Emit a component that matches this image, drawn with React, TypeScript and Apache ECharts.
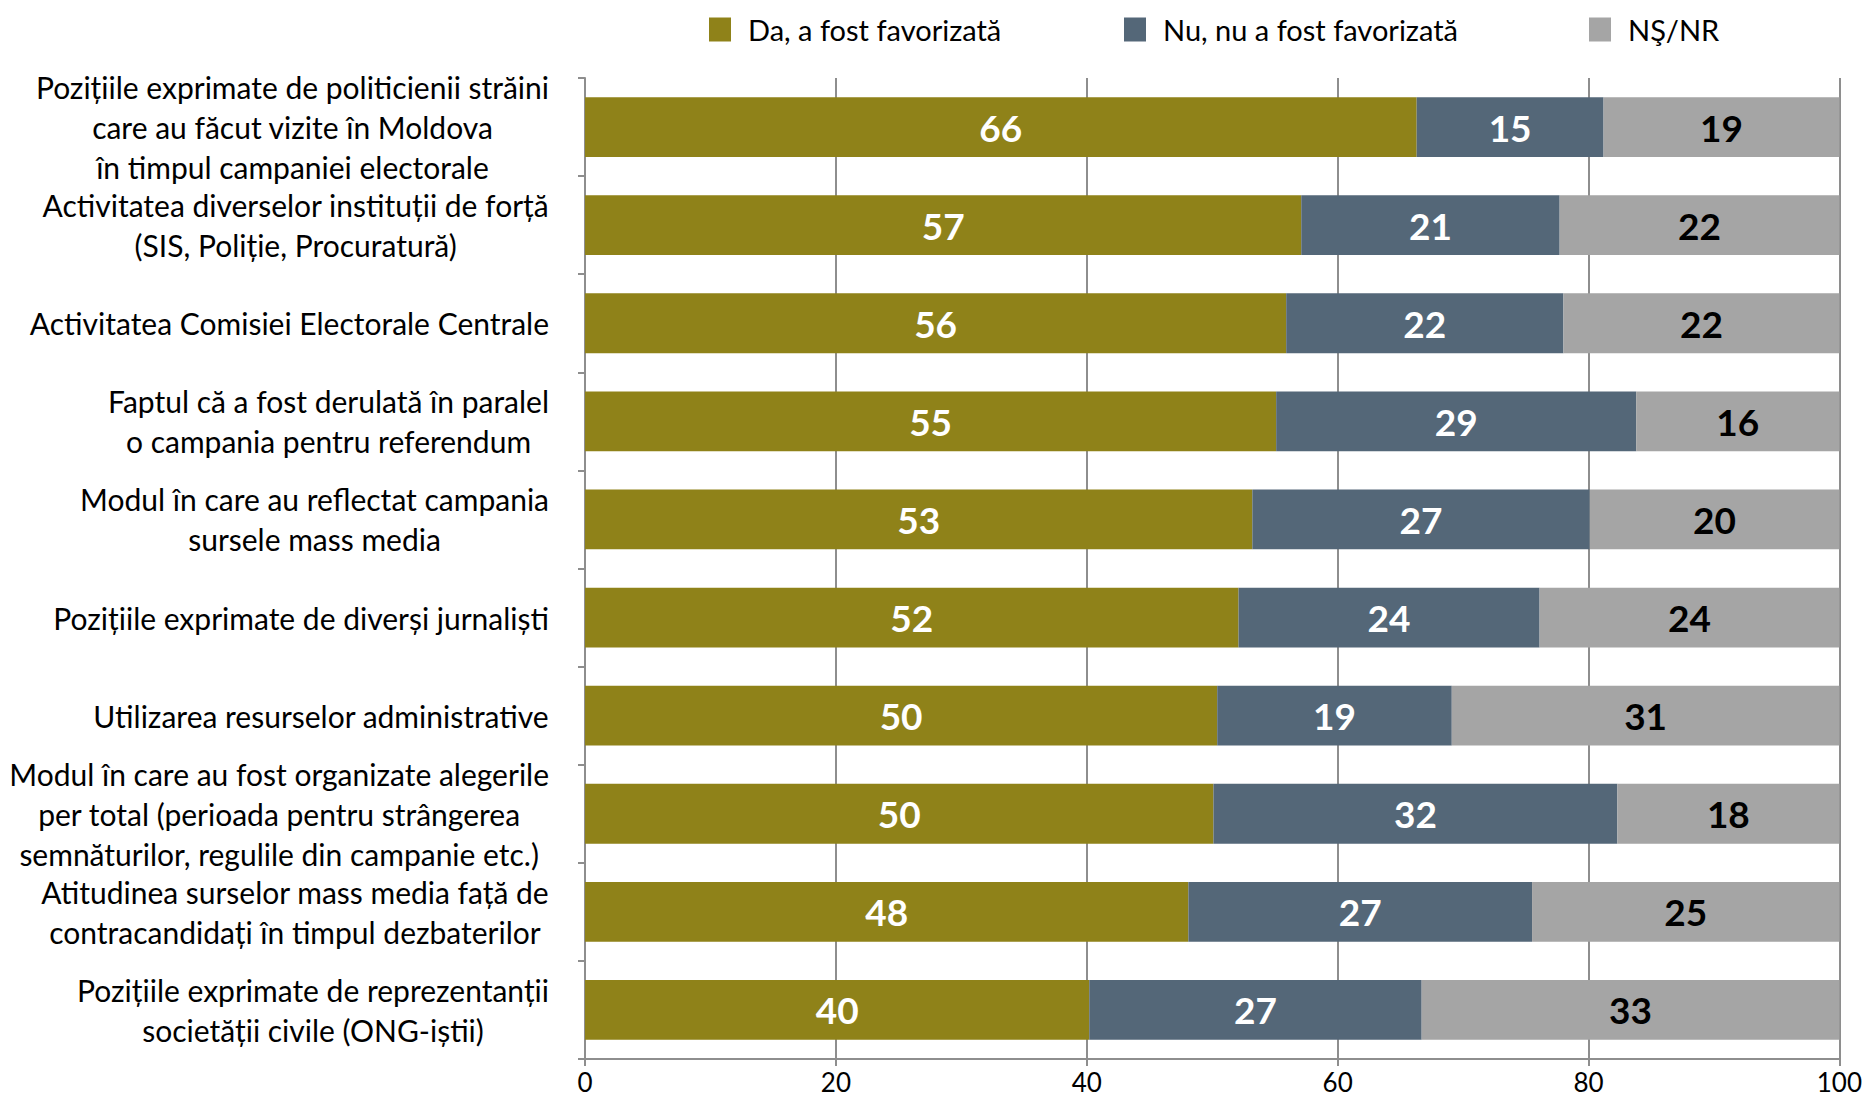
import React, { useEffect, useRef } from "react";
import * as echarts from "echarts";

const categories = [
  "Pozițiile exprimate de politicienii străini\ncare au făcut vizite în Moldova\nîn timpul campaniei electorale",
  "Activitatea diverselor instituții de forță\n(SIS, Poliție, Procuratură)",
  "Activitatea Comisiei Electorale Centrale",
  "Faptul că a fost derulată în paralel\no campania pentru referendum",
  "Modul în care au reflectat campania\nsursele mass media",
  "Pozițiile exprimate de diverși jurnaliști",
  "Utilizarea resurselor administrative",
  "Modul în care au fost organizate alegerile\nper total (perioada pentru strângerea\nsemnăturilor, regulile din campanie etc.)",
  "Atitudinea surselor mass media față de\ncontracandidați în timpul dezbaterilor",
  "Pozițiile exprimate de reprezentanții\nsocietății civile (ONG-iștii)",
];

const seriesNames = ["Da, a fost favorizată", "Nu, nu a fost favorizată", "NŞ/NR"];

const daValues = [66.3, 57.1, 55.9, 55.1, 53.2, 52.1, 50.4, 50.1, 48.1, 40.2];
const nuValues = [14.9, 20.6, 22.1, 28.7, 26.9, 24.0, 18.7, 32.2, 27.4, 26.5];
const nsValues = [18.8, 22.3, 22.0, 16.2, 19.9, 23.9, 30.9, 17.7, 24.5, 33.3];

const colors = ["#8F8219", "#546778", "#A5A5A5"];
const labelColors = ["#ffffff", "#ffffff", "#000000"];

const FONT = "Lato, 'Liberation Sans', sans-serif";
const GRID_COLOR = "#8e8e8e";

export default function App() {
  const ref = useRef<HTMLDivElement>(null);

  useEffect(() => {
    if (!ref.current) return;
    const chart = echarts.init(ref.current, null, { renderer: "svg" });
    const allValues = [daValues, nuValues, nsValues];
    const legendLeft = [704, 1119, 1584];

    chart.setOption({
      animation: false,
      backgroundColor: "#ffffff",
      textStyle: { fontFamily: FONT },
      legend: seriesNames.map((name, i) => ({
        data: [name],
        left: legendLeft[i],
        top: 10,
        icon: "rect",
        itemWidth: 22,
        itemHeight: 24,
        selectedMode: false,
        textStyle: {
          fontSize: 29,
          fontFamily: FONT,
          color: "#000",
          padding: [0, 0, 0, 12],
        },
      })),
      grid: { left: 585, right: 23, top: 78, bottom: 41, containLabel: false },
      xAxis: {
        type: "value",
        min: 0,
        max: 100,
        interval: 20,
        axisLine: { show: true, lineStyle: { color: GRID_COLOR, width: 2 } },
        axisTick: { show: true, length: 7, lineStyle: { color: GRID_COLOR, width: 2 } },
        splitLine: { show: true, lineStyle: { color: GRID_COLOR, width: 2 } },
        axisLabel: { fontSize: 26, color: "#000", margin: 10, fontFamily: FONT },
      },
      yAxis: {
        type: "category",
        inverse: true,
        data: categories,
        axisLine: { show: true, lineStyle: { color: GRID_COLOR, width: 2 } },
        axisTick: { show: true, length: 7, lineStyle: { color: GRID_COLOR, width: 2 } },
        axisLabel: {
          margin: 36,
          align: "right",
          formatter: (v: string) =>
            v
              .split("\n")
              .map((l) => `{c|${l}}`)
              .join("\n"),
          rich: {
            c: {
              align: "center",
              fontSize: 30,
              lineHeight: 40,
              fontFamily: FONT,
              color: "#000",
            },
          },
        },
      },
      series: seriesNames.map((name, i) => ({
        name,
        type: "bar",
        stack: "total",
        barCategoryGap: "39%",
        data: allValues[i],
        itemStyle: { color: colors[i] },
        label: {
          show: true,
          position: "inside",
          formatter: (p: any) => String(Math.round(p.value)),
          fontSize: 37,
          fontWeight: "bold",
          fontFamily: FONT,
          color: labelColors[i],
        },
      })),
    });

    return () => chart.dispose();
  }, []);

  return (
    <div
      ref={ref}
      style={{ position: "fixed", left: 0, top: 0, width: 1865, height: 1100, background: "#fff" }}
    />
  );
}
